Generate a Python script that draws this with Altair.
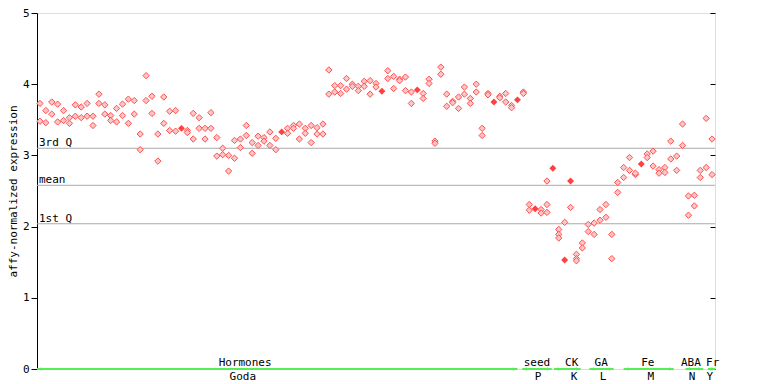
import altair as alt
import pandas as pd

# replicate expression values for each sample (left to right)
expr = [
    [3.73, 3.48], [3.63, 3.46], [3.75, 3.58], [3.72, 3.47], [3.63, 3.49],
    [3.53, 3.45], [3.71, 3.55], [3.68, 3.53], [3.73, 3.55], [3.55, 3.42],
    [3.86, 3.73], [3.71, 3.58], [3.56, 3.49], [3.66, 3.47], [3.72, 3.56],
    [3.79, 3.45], [3.77, 3.58], [3.30, 3.08], [4.12, 3.77], [3.83, 3.59],
    [3.30, 2.92], [3.82, 3.45], [3.62, 3.35], [3.63, 3.34], [3.38, 3.38],
    [3.35, 3.32], [3.59, 3.23], [3.53, 3.38], [3.38, 3.23], [3.60, 3.38],
    [3.25, 2.99], [3.10, 3.01], [3.00, 2.78], [3.21, 2.96], [3.23, 3.11],
    [3.42, 3.28], [3.18, 3.03], [3.27, 3.14], [3.25, 3.20], [3.33, 3.14],
    [3.24, 3.08], [3.33, 3.33], [3.38, 3.31], [3.42, 3.38], [3.44, 3.23],
    [3.38, 3.31], [3.42, 3.18], [3.39, 3.30], [3.44, 3.30], [4.20, 3.86],
    [3.98, 3.89], [3.98, 3.87], [4.08, 3.93], [4.00, 3.97], [3.97, 3.91],
    [4.04, 3.97], [4.05, 3.86], [4.01, 3.96], [3.90, 3.90], [4.19, 4.08],
    [4.11, 3.94], [4.07, 4.05], [4.10, 3.91], [3.89, 3.73], [3.92, 3.92],
    [3.87, 3.80], [4.07, 4.01], [3.20, 3.17], [4.24, 4.14], [3.86, 3.69],
    [3.76, 3.74], [3.82, 3.66], [3.96, 3.86], [3.80, 3.73], [4.00, 3.89],
    [3.38, 3.28], [3.87, 3.85], [3.75, 3.75], [3.83, 3.81], [3.87, 3.75],
    [3.70, 3.67], [3.78, 3.78], [3.89, 3.87], [2.31, 2.23], [2.25, 2.25],
    [2.24, 2.19], [2.64, 2.31, 2.20], [2.82, 2.82], [1.96, 1.89, 1.84], [2.06, 1.53, 1.53],
    [2.64, 2.64, 2.27], [1.61, 1.55, 1.52], [1.77, 1.70], [2.03, 1.93], [2.05, 1.89],
    [2.24, 2.09], [2.31, 2.13], [1.89, 1.55], [2.62, 2.48], [2.83, 2.69],
    [2.97, 2.79], [2.73, 2.75], [2.88, 2.88], [3.02, 2.97], [3.06, 2.85],
    [2.80, 2.75], [2.83, 2.76], [3.20, 2.95], [2.99, 2.79], [3.44, 3.14],
    [2.43, 2.16], [2.44, 2.29], [2.79, 2.69], [3.52, 2.83], [3.23, 2.73],
]

stat_names = ["3rd Q", "mean", "1st Q"]
stat_values = [3.10, 2.58, 2.04]

group_names = ["Hormones", "seed", "CK", "GA", "Fe", "ABA", "Fr"]
group_codes = ["Goda", "P", "K", "L", "M", "N", "Y"]
group_start = [0, 82.3, 87.7, 93.7, 99.5, 110.0, 113.8]
group_end = [81.5, 87.3, 92.2, 97.8, 108.0, 113.0, 115.0]
name_pos = [35.3, 84.8, 90.7, 95.7, 103.6, 110.9, 114.6]
code_pos = [34.9, 85.0, 91.1, 96.0, 104.1, 111.1, 114.1]

grid_values = list(range(10, 111, 10))
y_ticks = [0, 1, 2, 3, 4, 5]

rows = []
for i, vals in enumerate(expr):
    counts = {}
    for v in vals:
        counts[v] = counts.get(v, 0) + 1
    for v, c in counts.items():
        rows.append({"sample": i + 0.5, "value": v, "overlap": c > 1})
pts = pd.DataFrame(rows)

stats = pd.DataFrame({"name": stat_names, "value": stat_values})
groups = pd.DataFrame({
    "name": group_names, "code": group_codes,
    "start": group_start, "end": group_end,
    "name_pos": name_pos, "code_pos": code_pos,
})

FONT = "DejaVu Sans Mono"
GREEN = "#55ee55"

xscale = alt.Scale(domain=[0, 115], nice=False, zero=False)
yscale = alt.Scale(domain=[0, 5], nice=False, zero=True)

points_open = alt.Chart(pts).transform_filter("!datum.overlap").mark_point(
    shape="diamond", filled=True, fill="#ffc4c4", stroke="#ff5050", strokeWidth=1, size=40, opacity=1
).encode(
    x=alt.X("sample:Q", scale=xscale, title="",
            axis=alt.Axis(values=grid_values, grid=True, gridColor="#aaaaaa", gridWidth=1,
                          labels=False, ticks=False, domain=False)),
    y=alt.Y("value:Q", scale=yscale, title="affy-normalized expression",
            axis=alt.Axis(orient="left", values=y_ticks, grid=False, tickSize=6, tickColor="black",
                          domainColor="black", labelFont=FONT, labelFontSize=11, labelColor="black",
                          labelPadding=2, titleFont=FONT, titleFontSize=11, titleFontWeight="normal",
                          titleColor="black", titlePadding=4)),
)

points_full = alt.Chart(pts).transform_filter("datum.overlap").mark_point(
    shape="diamond", filled=True, color="#ff4040", size=48, opacity=1
).encode(
    x=alt.X("sample:Q", scale=xscale, axis=None),
    y=alt.Y("value:Q", scale=yscale, axis=None),
)

stat_rules = alt.Chart(stats).mark_rule(color="#aaaaaa", strokeWidth=1).encode(
    y=alt.Y("value:Q", scale=yscale, title="",
            axis=alt.Axis(orient="right", values=y_ticks, labels=False, domain=False, grid=False,
                          tickSize=5, tickColor="black", offset=-5)),
)

stat_text = alt.Chart(stats).transform_calculate(zero="0").mark_text(
    align="left", baseline="alphabetic", dx=2, dy=-2, font=FONT, fontSize=11, color="black"
).encode(
    x=alt.X("zero:Q", scale=xscale, axis=None),
    y=alt.Y("value:Q", scale=yscale, axis=None),
    text="name:N",
)

green_line = alt.Chart(groups).transform_calculate(zero="0").mark_rule(
    color=GREEN, strokeWidth=2
).encode(
    x=alt.X("start:Q", scale=xscale, axis=None),
    x2="end:Q",
    y=alt.Y("zero:Q", scale=yscale, axis=None),
)

arrow_left = alt.Chart(groups).transform_calculate(zero="0").mark_point(
    shape="triangle-left", filled=True, color=GREEN, size=14, opacity=1, xOffset=3
).encode(
    x=alt.X("start:Q", scale=xscale, axis=None),
    y=alt.Y("zero:Q", scale=yscale, axis=None),
)

arrow_right = alt.Chart(groups).transform_calculate(zero="0").mark_point(
    shape="triangle-right", filled=True, color=GREEN, size=14, opacity=1, xOffset=-3
).encode(
    x=alt.X("end:Q", scale=xscale, axis=None),
    y=alt.Y("zero:Q", scale=yscale, axis=None),
)

name_text = alt.Chart(groups).transform_calculate(zero="0").mark_text(
    align="center", baseline="alphabetic", dy=-3, font=FONT, fontSize=11, color="black"
).encode(
    x=alt.X("name_pos:Q", scale=xscale, axis=None),
    y=alt.Y("zero:Q", scale=yscale, axis=None),
    text="name:N",
)

code_text = alt.Chart(groups).transform_calculate(zero="0").mark_text(
    align="center", baseline="top", dy=2, font=FONT, fontSize=11, color="black"
).encode(
    x=alt.X("code_pos:Q", scale=xscale, axis=None),
    y=alt.Y("zero:Q", scale=yscale, axis=None),
    text="code:N",
)

chart = alt.layer(
    stat_rules, points_open, points_full, stat_text,
    green_line, arrow_left, arrow_right, name_text, code_text,
).properties(
    width=678, height=356,
    autosize=alt.AutoSizeParams(type="none"),
    padding={"left": 29, "top": 5, "right": 45, "bottom": 14},
).configure_view(
    stroke="black", strokeWidth=1
).configure(
    background="white"
)

chart.save("out.html", embed_options={"renderer": "svg", "actions": False})
